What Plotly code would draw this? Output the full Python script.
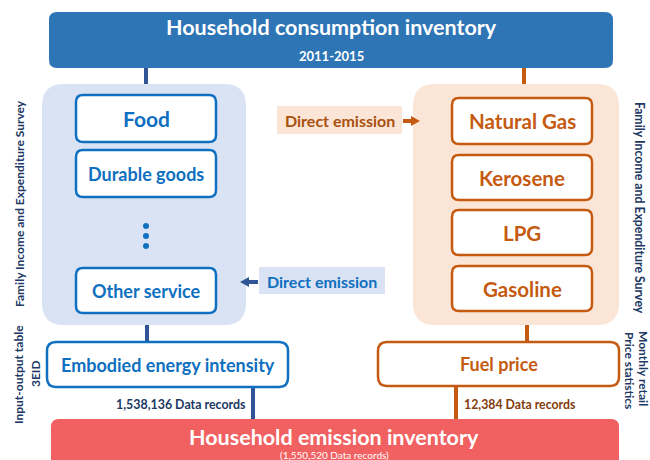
import plotly.graph_objects as go

# ---- content ----
top_title = "Household consumption inventory"
top_period = "2011-2015"
consumption_items = ["Food", "Durable goods", "Other service"]
fuel_items = ["Natural Gas", "Kerosene", "LPG", "Gasoline"]
direct_label = "Direct emission"
left_mid_box = "Embodied energy intensity"
right_mid_box = "Fuel price"
left_records = "1,538,136 Data records"
right_records = "12,384 Data records"
bottom_title = "Household emission inventory"
bottom_records = "(1,550,520 Data records)"
left_side_top = "Family Income and Expenditure Survey"
left_side_bottom = ["Input-output table", "3EID"]
right_side_top = "Family Income and Expenditure Survey"
right_side_bottom = ["Monthly retail", "Price statistics"]

# ---- styles ----
FONT = "Lato"
BLUE_TOP = "#2E75B6"
BLUE_DARK = "#2F5597"
BLUE = "#0F6FC0"
BLUE_LIGHT = "#DAE3F3"
ORANGE = "#C55A11"
ORANGE_LIGHT = "#FBE5D6"
ORANGE_TEXT = "#A9500F"
RED = "#F26161"
NAVY = "#203864"
BROWN = "#843C0C"

W, H = 650, 460
shapes = []
annotations = []


def rrect(x0, y0, x1, y1, r, fill, line=None, lw=0):
    p = (f"M {x0+r},{y0} L {x1-r},{y0} Q {x1},{y0} {x1},{y0+r} "
         f"L {x1},{y1-r} Q {x1},{y1} {x1-r},{y1} L {x0+r},{y1} "
         f"Q {x0},{y1} {x0},{y1-r} L {x0},{y0+r} Q {x0},{y0} {x0+r},{y0} Z")
    shapes.append(dict(type="path", path=p, fillcolor=fill,
                       line=dict(color=line if line else fill, width=lw),
                       layer="below"))


def vline(x, y0, y1, color, w=4):
    shapes.append(dict(type="line", x0=x, x1=x, y0=y0, y1=y1,
                       line=dict(color=color, width=w), layer="below"))


def text(x, y, s, size, color, angle=0, bold=True):
    annotations.append(dict(x=x, y=y, text=f"<b>{s}</b>" if bold else s,
                            showarrow=False, xanchor="center", yanchor="middle",
                            textangle=angle,
                            font=dict(family=FONT, size=size, color=color)))


# connectors
vline(146, 66, 86, BLUE_DARK)
vline(524, 66, 86, ORANGE)
vline(147, 323, 344, BLUE_DARK)
vline(527, 323, 344, ORANGE)
vline(253, 385, 421, BLUE_DARK)
vline(456, 385, 421, ORANGE)

# top box
rrect(49, 12, 613, 68, 8, BLUE_TOP)
text(331, 27, top_title, 21.5, "white")
text(331, 56, top_period, 13, "white")

# panels
rrect(42, 84, 246, 325, 22, BLUE_LIGHT)
rrect(413, 84, 619, 325, 22, ORANGE_LIGHT)

# left items
left_rows = [(95, 142, 21), (150, 197, 18), (268, 313, 18)]
for (y0, y1, fs), lab in zip(left_rows, consumption_items):
    rrect(76, y0, 216, y1, 7, "white", BLUE, 2.5)
    text(146, (y0 + y1) / 2, lab, fs, BLUE)
for yy in (226, 236, 246):
    shapes.append(dict(type="circle", x0=143, x1=149, y0=yy - 3, y1=yy + 3,
                       fillcolor=BLUE, line=dict(width=0)))

# right items
right_rows = [(98, 144), (155, 200), (210, 255), (266, 311)]
for (y0, y1), lab in zip(right_rows, fuel_items):
    rrect(452, y0, 592, y1, 7, "white", ORANGE, 2.5)
    text(522, (y0 + y1) / 2, lab, 20.5, ORANGE)

# direct emission labels
shapes.append(dict(type="rect", x0=277, x1=402, y0=106, y1=134,
                   fillcolor=ORANGE_LIGHT, line=dict(width=0)))
text(339.5, 120.5, direct_label, 16, ORANGE_TEXT)
shapes.append(dict(type="line", x0=403, x1=412, y0=121, y1=121,
                   line=dict(color=ORANGE, width=4)))
shapes.append(dict(type="path", path="M 411,116 L 420,121 L 411,126 Z",
                   fillcolor=ORANGE, line=dict(width=0)))

shapes.append(dict(type="rect", x0=259, x1=385, y0=267, y1=294,
                   fillcolor=BLUE_LIGHT, line=dict(width=0)))
text(322, 281, direct_label, 16, BLUE)
shapes.append(dict(type="line", x0=248, x1=258, y0=282, y1=282,
                   line=dict(color=BLUE_DARK, width=4)))
shapes.append(dict(type="path", path="M 249,277 L 240,282 L 249,287 Z",
                   fillcolor=BLUE_DARK, line=dict(width=0)))

# mid boxes
rrect(47, 342, 288, 387, 9, "white", BLUE, 2.5)
text(167.5, 364.5, left_mid_box, 18, BLUE)
rrect(378, 342, 619, 386, 9, "white", ORANGE, 2.5)
text(498.5, 364, right_mid_box, 18, ORANGE)

# record counts
text(181, 404, left_records, 12.4, NAVY)
text(520, 404, right_records, 12.3, BROWN)

# bottom box
rrect(51, 419, 619, 478, 8, RED)
text(334, 437, bottom_title, 21.5, "white")
text(334, 455, bottom_records, 10, "white", bold=False)

# side labels
text(19, 204, left_side_top, 12, NAVY, angle=-90)
text(18, 375, left_side_bottom[0], 12, NAVY, angle=-90)
text(35, 374, left_side_bottom[1], 12, NAVY, angle=-90)
text(640, 208, right_side_top, 12.3, NAVY, angle=90)
text(644, 368, right_side_bottom[0], 12, NAVY, angle=90)
text(630, 370, right_side_bottom[1], 12, NAVY, angle=90)

fig = go.Figure()
fig.update_layout(
    width=W, height=H,
    margin=dict(l=0, r=0, t=0, b=0),
    paper_bgcolor="white", plot_bgcolor="white",
    xaxis=dict(range=[0, W], visible=False, fixedrange=True),
    yaxis=dict(range=[H, 0], visible=False, fixedrange=True),
    shapes=shapes, annotations=annotations, showlegend=False,
)
fig.write_html("out.html", config={"displayModeBar": False},
               post_script="document.body.style.margin='0';"
                           "document.body.style.overflow='hidden';")
